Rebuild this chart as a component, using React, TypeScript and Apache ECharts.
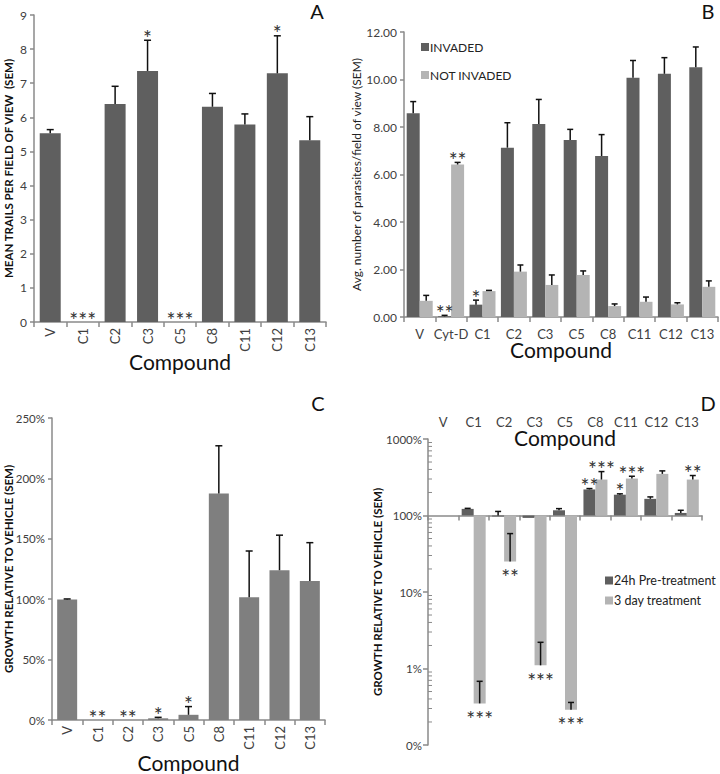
import React, { useEffect, useRef } from 'react';
import * as echarts from 'echarts';

const FONT = 'Lato, "Open Sans", sans-serif';
const AXIS_COLOR = '#8a8a8a';
const LABEL_COLOR = '#404040';
const DARK = '#5f5f5f';
const LIGHT = '#b4b4b4';
const MID = '#7f7f7f';
const STAR_COLOR = '#333333';

// ---------- Panel A ----------
const catsA = ['V', 'C1', 'C2', 'C3', 'C5', 'C8', 'C11', 'C12', 'C13'];
const trailsMean = [5.53, 0, 6.39, 7.36, 0, 6.31, 5.79, 7.29, 5.33];
const trailsSem = [0.11, 0, 0.52, 0.9, 0, 0.39, 0.31, 1.1, 0.69];
const trailsSig = ['', '***', '', '*', '***', '', '', '*', ''];

// ---------- Panel B ----------
const catsB = ['V', 'Cyt-D', 'C1', 'C2', 'C3', 'C5', 'C8', 'C11', 'C12', 'C13'];
const invaded = [8.58, 0.03, 0.52, 7.13, 8.13, 7.45, 6.78, 10.07, 10.24, 10.52];
const invadedSem = [0.49, 0.04, 0.19, 1.05, 1.03, 0.45, 0.9, 0.73, 0.68, 0.85];
const notInvaded = [0.68, 6.42, 1.09, 1.91, 1.35, 1.77, 0.46, 0.64, 0.53, 1.27];
const notInvadedSem = [0.23, 0.09, 0.03, 0.28, 0.42, 0.17, 0.09, 0.2, 0.07, 0.25];
const invadedSig = ['', '**', '*', '', '', '', '', '', '', ''];
const notInvadedSig = ['', '**', '', '', '', '', '', '', '', ''];

// ---------- Panel C ----------
const catsC = ['V', 'C1', 'C2', 'C3', 'C5', 'C8', 'C11', 'C12', 'C13'];
const growth = [99.7, 0, 0, 1.4, 4.3, 187.5, 101.7, 124, 115];
const growthSem = [0.5, 0, 0, 0.8, 6.8, 39.5, 38.2, 29, 31.8];
const growthSig = ['', '**', '**', '*', '*', '', '', '', ''];

// ---------- Panel D ----------
const catsD = ['V', 'C1', 'C2', 'C3', 'C5', 'C8', 'C11', 'C12', 'C13'];
const pre24h: (number | null)[] = [null, 122, 100, 93, 117, 219, 187, 165, 108];
const pre24hSem: (number | null)[] = [null, 2, 13, 0, 6, 6, 5, 10, 9];
const treat3d: (number | null)[] = [null, 0.35, 25, 1.1, 0.29, 295, 304, 350, 295];
const treat3dSem: (number | null)[] = [null, 0.33, 33, 1.1, 0.07, 80, 22, 33, 38];
const pre24hSig = ['', '', '', '', '', '**', '*', '', ''];
const treat3dSig = ['', '***', '**', '***', '***', '***', '***', '', '**'];
const dMinorTicks = [
  0.2, 0.3, 0.4, 0.5, 0.6, 0.7, 0.8, 0.9,
  2, 3, 4, 5, 6, 7, 8, 9,
  20, 30, 40, 50, 60, 70, 80, 90,
  200, 300, 400, 500, 600, 700, 800, 900,
];

function rows(vals: (number | null)[], sems: (number | null)[]) {
  const out: number[][] = [];
  vals.forEach((v, i) => {
    if (v != null) out.push([i, v, (sems[i] as number) || 0]);
  });
  return out;
}

function errSeries(xi: number, yi: number, vals: (number | null)[], sems: (number | null)[], dx: number, cap: number) {
  return {
    type: 'custom',
    xAxisIndex: xi,
    yAxisIndex: yi,
    silent: true,
    z: 4,
    itemStyle: { color: '#111' },
    data: rows(vals, sems).filter((r) => r[2] > 0),
    encode: { x: 0, y: 1 },
    renderItem: (params: any, api: any) => {
      const i = api.value(0);
      const v = api.value(1);
      const s = api.value(2);
      const p1 = api.coord([i, v]);
      const p2 = api.coord([i, v + s]);
      const x = p1[0] + dx;
      return {
        type: 'group',
        children: [
          { type: 'line', shape: { x1: x, y1: p1[1], x2: x, y2: p2[1] }, style: { stroke: '#111', lineWidth: 1.5 } },
          { type: 'line', shape: { x1: x - cap, y1: p2[1], x2: x + cap, y2: p2[1] }, style: { stroke: '#111', lineWidth: 1.5 } },
        ],
      };
    },
  };
}

function starSeries(
  xi: number, yi: number, vals: (number | null)[], sems: (number | null)[], sig: string[], dx: number, base: number | null,
) {
  return {
    type: 'custom',
    xAxisIndex: xi,
    yAxisIndex: yi,
    silent: true,
    z: 5,
    itemStyle: { color: STAR_COLOR },
    data: rows(vals, sems).filter((r) => sig[r[0]]),
    encode: { x: 0, y: 1 },
    renderItem: (params: any, api: any) => {
      const i = api.value(0);
      const v = api.value(1);
      const s = api.value(2);
      const down = base != null && v < base;
      const p = api.coord([i, down ? v : v + s]);
      return {
        type: 'text',
        x: p[0] + dx,
        y: down ? p[1] + 15 : p[1] - 3,
        style: {
          text: sig[i],
          fill: STAR_COLOR,
          fontSize: 21,
          fontFamily: FONT,
          align: 'center',
          verticalAlign: 'middle',
        },
      };
    },
  };
}

function logBarSeries(name: string, vals: (number | null)[], sems: (number | null)[], dx: number, color: string) {
  return {
    type: 'custom',
    name,
    xAxisIndex: 3,
    yAxisIndex: 3,
    z: 3,
    itemStyle: { color },
    data: rows(vals, sems),
    encode: { x: 0, y: 1 },
    renderItem: (params: any, api: any) => {
      const i = api.value(0);
      const v = api.value(1);
      const b = api.coord([i, 100]);
      const t = api.coord([i, v]);
      const w = 12;
      return {
        type: 'rect',
        shape: { x: b[0] + dx - w / 2, y: Math.min(b[1], t[1]), width: w, height: Math.max(Math.abs(t[1] - b[1]), 1) },
        style: { fill: color },
      };
    },
  };
}

const catAxisBase = {
  type: 'category',
  axisLine: { show: true, lineStyle: { color: AXIS_COLOR, width: 1.5 } },
  axisTick: { show: true, alignWithLabel: false, length: 5, lineStyle: { color: AXIS_COLOR, width: 1.5 } },
  axisLabel: { color: LABEL_COLOR, fontFamily: FONT, fontSize: 13, interval: 0 },
  nameLocation: 'middle',
  nameMoveOverlap: false,
  nameTextStyle: { fontFamily: FONT, fontSize: 21, color: '#111' },
};

const valAxisBase = {
  axisLine: { show: true, lineStyle: { color: AXIS_COLOR, width: 1.5 } },
  axisTick: { show: true, length: 4, lineStyle: { color: AXIS_COLOR, width: 1.5 } },
  splitLine: { show: false },
  axisLabel: { color: LABEL_COLOR, fontFamily: FONT, fontSize: 12, margin: 7 },
  nameLocation: 'middle',
  nameMoveOverlap: false,
};

function letter(t: string, x: number, y: number) {
  return {
    type: 'text',
    x,
    y,
    style: { text: t, fill: '#111', font: `20px ${FONT}`, align: 'center', verticalAlign: 'middle', textAlign: 'center', textVerticalAlign: 'middle' },
  };
}

export default function App() {
  const ref = useRef<HTMLDivElement>(null);
  useEffect(() => {
    if (!ref.current) return;
    const chart = echarts.init(ref.current, null, { renderer: 'svg' });
    const yTitleStyle = { fontFamily: FONT, fontSize: 11.5, fontWeight: 'bold', color: '#111' };
    const option: any = {
      animation: false,
      backgroundColor: '#fff',
      textStyle: { fontFamily: FONT },
      grid: [
        { left: 34, top: 15, width: 292, height: 307 },
        { left: 404, top: 32, width: 314, height: 285 },
        { left: 52, top: 418, width: 273, height: 304 },
        { left: 428, top: 439, width: 274, height: 306 },
      ],
      legend: [
        {
          data: ['INVADED', 'NOT INVADED'],
          orient: 'vertical',
          left: 416,
          top: 36,
          itemWidth: 8,
          itemHeight: 8,
          itemGap: 16,
          icon: 'rect',
          selectedMode: false,
          textStyle: { fontFamily: FONT, fontSize: 12, color: '#222', padding: [0, 0, 0, -4] },
        },
        {
          data: ['24h Pre-treatment', '3 day treatment'],
          orient: 'vertical',
          left: 600,
          top: 569,
          itemWidth: 8,
          itemHeight: 8,
          itemGap: 7,
          icon: 'rect',
          selectedMode: false,
          textStyle: { fontFamily: FONT, fontSize: 12.5, color: '#222', padding: [0, 0, 0, -4] },
        },
      ],
      xAxis: [
        { ...catAxisBase, gridIndex: 0, data: catsA, name: 'Compound', nameGap: 29, axisLabel: { ...catAxisBase.axisLabel, rotate: 90, margin: 6 } },
        { ...catAxisBase, gridIndex: 1, data: catsB, name: 'Compound', nameGap: 22, axisLabel: { ...catAxisBase.axisLabel, margin: 10 } },
        { ...catAxisBase, gridIndex: 2, data: catsC, name: 'Compound', nameGap: 32, axisLabel: { ...catAxisBase.axisLabel, rotate: 90, margin: 6 } },
        {
          ...catAxisBase,
          gridIndex: 3,
          data: catsD,
          position: 'top',
          name: 'Compound',
          nameGap: -9,
          axisLine: { show: false },
          axisTick: { show: false },
          axisLabel: { ...catAxisBase.axisLabel, margin: 11 },
        },
        {
          ...catAxisBase,
          gridIndex: 3,
          data: catsD,
          position: 'bottom',
          offset: -229.5,
          axisLabel: { show: false },
        },
      ],
      yAxis: [
        {
          ...valAxisBase,
          type: 'value',
          gridIndex: 0,
          min: 0,
          max: 9,
          interval: 1,
          name: 'MEAN TRAILS PER FIELD OF VIEW  (SEM)',
          nameGap: 20,
          nameTextStyle: yTitleStyle,
        },
        {
          ...valAxisBase,
          type: 'value',
          gridIndex: 1,
          min: 0,
          max: 12,
          interval: 2,
          axisLabel: { ...valAxisBase.axisLabel, formatter: (v: number) => v.toFixed(2) },
          name: 'Avg. number of parasites/field of view (SEM)',
          nameGap: 42,
          nameTextStyle: { fontFamily: FONT, fontSize: 12, color: '#222' },
        },
        {
          ...valAxisBase,
          type: 'value',
          gridIndex: 2,
          min: 0,
          max: 250,
          interval: 50,
          axisLabel: { ...valAxisBase.axisLabel, fontSize: 11.5, formatter: (v: number) => v + '%' },
          name: 'GROWTH RELATIVE TO VEHICLE (SEM)',
          nameGap: 38,
          nameTextStyle: yTitleStyle,
        },
        {
          ...valAxisBase,
          type: 'log',
          logBase: 10,
          gridIndex: 3,
          min: 0.1,
          max: 1000,
          axisTick: { show: true, length: 5, lineStyle: { color: AXIS_COLOR, width: 1.5 } },
          axisLabel: { ...valAxisBase.axisLabel, fontSize: 11.5, margin: 6, formatter: (v: number) => (v < 1 ? '0%' : Math.round(v) + '%') },
          name: 'GROWTH RELATIVE TO VEHICLE (SEM)',
          nameGap: 45,
          nameTextStyle: yTitleStyle,
        },
      ],
      graphic: [letter('A', 317, 11), letter('B', 708, 11), letter('C', 318, 403), letter('D', 708, 403)],
      series: [
        // A
        { type: 'bar', xAxisIndex: 0, yAxisIndex: 0, data: trailsMean, barWidth: 21, itemStyle: { color: DARK }, z: 3 },
        errSeries(0, 0, trailsMean, trailsSem, 0, 3.5),
        starSeries(0, 0, trailsMean, trailsSem, trailsSig, 0, null),
        // B
        { type: 'bar', name: 'INVADED', xAxisIndex: 1, yAxisIndex: 1, data: invaded, barWidth: 13, barGap: '0%', itemStyle: { color: DARK }, z: 3 },
        { type: 'bar', name: 'NOT INVADED', xAxisIndex: 1, yAxisIndex: 1, data: notInvaded, barWidth: 13, barGap: '0%', itemStyle: { color: LIGHT }, z: 3 },
        errSeries(1, 1, invaded, invadedSem, -6.5, 3),
        errSeries(1, 1, notInvaded, notInvadedSem, 6.5, 3),
        starSeries(1, 1, invaded, invadedSem, invadedSig, -6.5, null),
        starSeries(1, 1, notInvaded, notInvadedSem, notInvadedSig, 6.5, null),
        // C
        { type: 'bar', xAxisIndex: 2, yAxisIndex: 2, data: growth, barWidth: 20, itemStyle: { color: MID }, z: 3 },
        errSeries(2, 2, growth, growthSem, 0, 3.5),
        starSeries(2, 2, growth, growthSem, growthSig, 0, null),
        // D
        logBarSeries('24h Pre-treatment', pre24h, pre24hSem, -6, DARK),
        logBarSeries('3 day treatment', treat3d, treat3dSem, 6, LIGHT),
        errSeries(3, 3, pre24h, pre24hSem, -6, 3),
        errSeries(3, 3, treat3d, treat3dSem, 6, 3),
        starSeries(3, 3, pre24h, pre24hSem, pre24hSig, -6, 100),
        starSeries(3, 3, treat3d, treat3dSem, treat3dSig, 6, 100),
        {
          type: 'custom',
          xAxisIndex: 3,
          yAxisIndex: 3,
          silent: true,
          itemStyle: { color: AXIS_COLOR },
          data: dMinorTicks.map((v) => [0, v]),
          encode: { x: 0, y: 1 },
          renderItem: (params: any, api: any) => {
            const p = api.coord([0, api.value(1)]);
            const x0 = params.coordSys.x;
            return { type: 'line', shape: { x1: x0, y1: p[1], x2: x0 + 4, y2: p[1] }, style: { stroke: AXIS_COLOR, lineWidth: 1 } };
          },
        },
      ],
    };
    chart.setOption(option);
    return () => chart.dispose();
  }, []);
  return <div ref={ref} style={{ position: 'fixed', left: 0, top: 0, width: 720, height: 774, background: '#fff' }} />;
}
